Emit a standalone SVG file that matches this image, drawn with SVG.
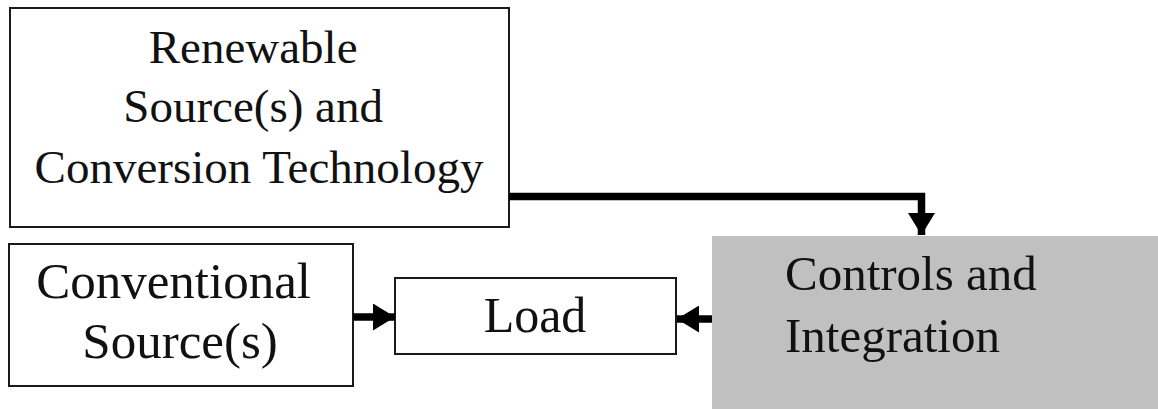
<svg xmlns="http://www.w3.org/2000/svg" width="1158" height="409" viewBox="0 0 1158 409">
  <style>
    .box { fill: #ffffff; stroke: #1a1a1a; stroke-width: 2; }
    .shaded { fill: #c0c0c0; stroke: none; }
    .label { font-family: "Liberation Serif", "Times New Roman", serif; fill: #111111; }
    .wire { fill: none; stroke: #000000; stroke-width: 7.5; }
  </style>
  <defs>
    <!-- filled triangular head, sized in user units -->
    <marker id="head" viewBox="0 0 22 27" refX="22" refY="13.5" markerWidth="22" markerHeight="27" markerUnits="userSpaceOnUse" orient="auto">
      <path d="M0,0 L22,13.5 L0,27 Z" fill="#000000"/>
    </marker>
  </defs>

  <rect width="1158" height="409" fill="#ffffff"/>

  <g id="renewable">
    <rect class="box" x="10" y="8" width="499" height="219"/>
    <text class="label" font-size="47" text-anchor="middle">
      <tspan x="259" y="63">Renewable</tspan>
      <tspan x="259" y="122">Source(s) and</tspan>
      <tspan x="259" y="183">Conversion Technology</tspan>
    </text>
  </g>

  <g id="conventional">
    <rect class="box" x="9" y="244" width="344" height="142"/>
    <text class="label" font-size="51" text-anchor="middle">
      <tspan x="180" y="298">Conventional</tspan>
      <tspan x="180" y="358">Source(s)</tspan>
    </text>
  </g>

  <g id="load">
    <rect class="box" x="395" y="278" width="281" height="76"/>
    <text class="label" font-size="50" text-anchor="middle" x="535" y="332">Load</text>
  </g>

  <g id="controls">
    <rect class="shaded" x="712" y="236" width="446" height="173"/>
    <text class="label" font-size="49">
      <tspan x="785" y="290">Controls and</tspan>
      <tspan x="785" y="352">Integration</tspan>
    </text>
  </g>

  <g id="connectors">
    <path class="wire" d="M509,196.5 H921.5 V235" marker-end="url(#head)"/>
    <path class="wire" d="M353,317 H395" marker-end="url(#head)"/>
    <path class="wire" d="M712,319 H677" marker-end="url(#head)"/>
  </g>
</svg>
